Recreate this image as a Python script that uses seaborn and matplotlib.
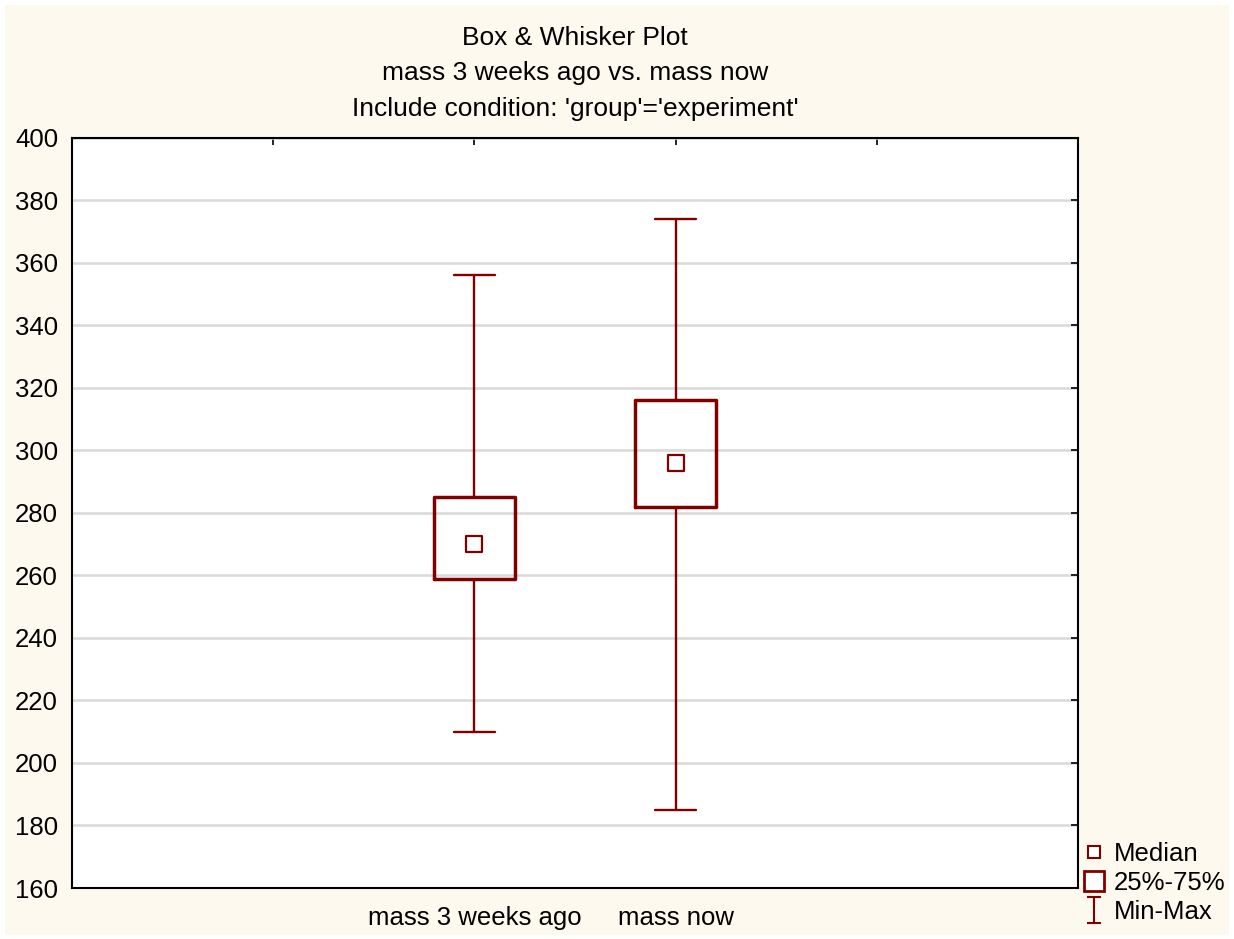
import numpy as np
import pandas as pd
import matplotlib
matplotlib.use("Agg")
import matplotlib.pyplot as plt
from matplotlib.lines import Line2D
from matplotlib.path import Path
from matplotlib.patches import Rectangle
import seaborn as sns

# Five-number summaries
variables = ["mass 3 weeks ago", "mass now"]
mins = [210, 185]
q25 = [259, 282]
medians = [270, 296]
q75 = [285, 316]
maxs = [356, 374]

title_lines = ["Box & Whisker Plot",
               "mass 3 weeks ago vs. mass now",
               "Include condition: 'group'='experiment'"]

dark_red = "#800000"
cream = "#FEF9EE"

# Long table: the five summary values per variable (n=5, so the quartiles fall exactly on them)
rows = []
for i, v in enumerate(variables):
    for val in [mins[i], q25[i], medians[i], q75[i], maxs[i]]:
        rows.append({"variable": v, "mass": val})
df = pd.DataFrame(rows)

sns.set_style("white")
plt.rcParams["font.family"] = ["Liberation Sans", "DejaVu Sans"]
plt.rcParams["text.color"] = "black"

fig = plt.figure(figsize=(12.34, 9.39), dpi=100)
fig.patch.set_facecolor("white")
fig.patches.append(Rectangle((5 / 1234, 4 / 939), 1224 / 1234, 930 / 939,
                             transform=fig.transFigure, facecolor=cream,
                             edgecolor="none", zorder=-10))
ax = fig.add_axes([72 / 1234, 1 - 888 / 939, 1006 / 1234, 750 / 939])
ax.set_facecolor("white")

sns.boxplot(data=df, x="variable", y="mass", order=variables, ax=ax,
            width=0.4, whis=(0, 100), fill=False, color=dark_red,
            linewidth=2.5, showfliers=False,
            medianprops={"visible": False},
            whiskerprops={"linewidth": 1.7},
            capprops={"linewidth": 1.7},
            boxprops={"linewidth": 2.5})

# median squares
med_df = pd.DataFrame({"variable": variables, "median": medians})
sns.scatterplot(data=med_df, x="variable", y="median", ax=ax, marker="s",
                s=125, facecolor="white", edgecolor=dark_red, linewidth=1.6,
                zorder=5, legend=False)

ax.set_xlim(-2, 3)
ax.set_ylim(160, 400)
ax.set_yticks(np.arange(160, 401, 20))
ax.set_xticks([-1, 0, 1, 2])
ax.set_xticklabels(["", variables[0], variables[1], ""])
ax.yaxis.grid(True, color="#D9D9D9", linewidth=1.8)
ax.set_axisbelow(True)
ax.set_xlabel("")
ax.set_ylabel("")
for s in ax.spines.values():
    s.set_visible(True)
    s.set_color("black")
    s.set_linewidth(1.5)
ax.tick_params(axis="both", direction="in", length=5, width=1.2,
               top=True, right=True, labelsize=18.5, colors="black")
ax.tick_params(axis="y", pad=10)
ax.tick_params(axis="x", pad=13)

ax.set_title("\n".join(title_lines), fontsize=19, linespacing=1.6, pad=16,
             color="black")

# I-beam marker for min-max
ibeam = Path([(-0.5, 1), (0.5, 1), (0, 1), (0, -1), (-0.5, -1), (0.5, -1)],
             [Path.MOVETO, Path.LINETO, Path.MOVETO, Path.LINETO,
              Path.MOVETO, Path.LINETO])
handles = [
    Line2D([], [], linestyle="none", marker="s", markersize=8,
           markerfacecolor="white", markeredgecolor=dark_red, markeredgewidth=1.5),
    Line2D([], [], linestyle="none", marker="s", markersize=15,
           markerfacecolor="white", markeredgecolor=dark_red, markeredgewidth=2),
    Line2D([], [], linestyle="none", marker=ibeam, markersize=19,
           markerfacecolor="none", markeredgecolor=dark_red, markeredgewidth=1.5),
]
leg = ax.legend(handles, ["Median", "25%-75%", "Min-Max"], loc="lower left",
                bbox_to_anchor=(0.995, -0.062), frameon=False, fontsize=18.5,
                handlelength=0.8, handletextpad=0.4, labelspacing=0.2,
                borderaxespad=0)
for t in leg.get_texts():
    t.set_color("black")

fig.savefig("out.png", dpi=100, facecolor=fig.get_facecolor())
